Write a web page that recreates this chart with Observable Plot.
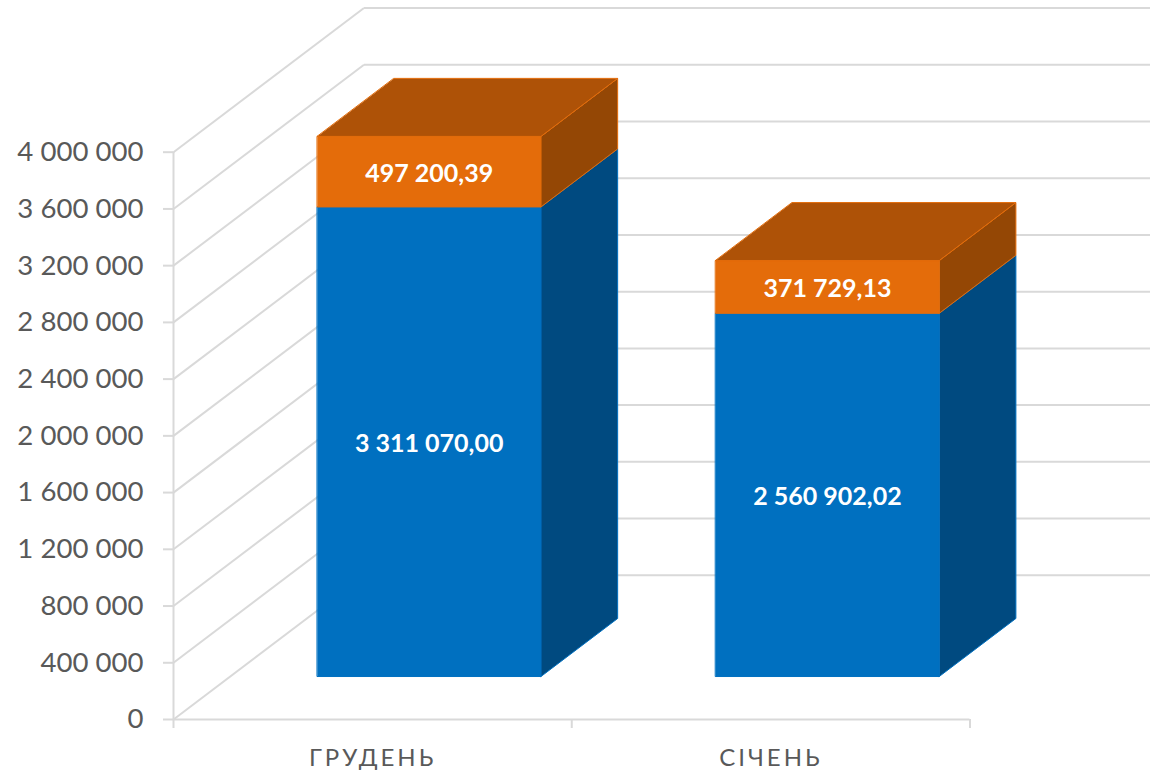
<!DOCTYPE html>
<html>
<head>
<meta charset="utf-8">
<script src="https://cdn.jsdelivr.net/npm/d3@7"></script>
<script src="https://cdn.jsdelivr.net/npm/@observablehq/plot@0.6"></script>
<style>
html,body{margin:0;padding:0;background:#fff;overflow:hidden}
[aria-label="x-axis tick label"]{letter-spacing:3px}
</style>
</head>
<body>
<div id="chart"></div>
<script>
const categories = ["ГРУДЕНЬ", "СІЧЕНЬ"];
const blueValues = [3311070.00, 2560902.02];
const orangeValues = [497200.39, 371729.13];
const yTicks = [0, 400000, 800000, 1200000, 1600000, 2000000, 2400000, 2800000, 3200000, 3600000, 4000000];

// oblique projection of the 3D box: depth 0..1 shifts x (category units) and y (value units)
const depthX = 0.4783, depthY = 1016750;
const barLeft = 0.2187, barWidth = 0.5615, depthFront = 0.298, depthBack = 0.7005;
const P = (xv, yv, d) => ({x: xv + d * depthX, y: yv + d * depthY});

const loc = d3.formatLocale({decimal: ",", thousands: " ", grouping: [3]});
const fmtInt = loc.format(",d"), fmtVal = loc.format(",.2f");

function faces() {
  const out = {blueSide: [], blueFront: [], orangeSide: [], orangeFront: [], orangeTop: []};
  const add = (k, id, pts) => pts.forEach(p => out[k].push({...p, id}));
  categories.forEach((c, i) => {
    const l = i + barLeft, r = l + barWidth, a = blueValues[i], b = a + orangeValues[i];
    const f = depthFront, k = depthBack;
    add("blueSide", c, [P(r, 0, f), P(r, 0, k), P(r, a, k), P(r, a, f)]);
    add("blueFront", c, [P(l, 0, f), P(r, 0, f), P(r, a, f), P(l, a, f)]);
    add("orangeSide", c, [P(r, a, f), P(r, a, k), P(r, b, k), P(r, b, f)]);
    add("orangeFront", c, [P(l, a, f), P(r, a, f), P(r, b, f), P(l, b, f)]);
    add("orangeTop", c, [P(l, b, f), P(r, b, f), P(r, b, k), P(l, b, k)]);
  });
  return out;
}
const F = faces();
const face = (rows, fill, stroke) => Plot.line(rows, {x: "x", y: "y", z: "id", fill, stroke, strokeWidth: 1, curve: "linear-closed", strokeLinejoin: "round"});

const labelRows = categories.flatMap((c, i) => {
  const cx = i + barLeft + barWidth / 2;
  return [
    {...P(cx, blueValues[i] / 2, depthFront), t: fmtVal(blueValues[i])},
    {...P(cx, blueValues[i] + orangeValues[i] / 2, depthFront), t: fmtVal(orangeValues[i])}
  ];
});

const grid = "#D9D9D9", ink = "#595959", fontFamily = "Lato, 'Open Sans', sans-serif";

const chart = Plot.plot({
  width: 1150, height: 771,
  marginLeft: 173, marginRight: 0, marginTop: 151.7, marginBottom: 52,
  style: {fontFamily, background: "#fff"},
  x: {domain: [0, 977 / 398.25], axis: null},
  y: {domain: [0, 4000000], axis: null},
  marks: [
    Plot.link(yTicks, {x1: () => 0, y1: d => d, x2: () => depthX, y2: d => d + depthY, stroke: grid, strokeWidth: 2}),
    Plot.link(yTicks, {x1: () => depthX, y1: d => d + depthY, x2: () => 977 / 398.25, y2: d => d + depthY, stroke: grid, strokeWidth: 2}),
    Plot.ruleX([0], {y1: 0, y2: 4000000, stroke: grid, strokeWidth: 2}),
    Plot.ruleY([0], {x1: 0, x2: 2, stroke: grid, strokeWidth: 2}),
    Plot.axisY({ticks: yTicks, tickFormat: fmtInt, tickSize: 10, tickPadding: 20, stroke: grid, strokeWidth: 2, color: ink, fontSize: 27.6, marginLeft: 173, label: null, textStroke: "none"}),
    Plot.axisX({ticks: [0, 1, 2], tickFormat: () => "", tickSize: 9, stroke: grid, strokeWidth: 2, label: null}),
    Plot.axisX({ticks: [0.5, 1.5], tickSize: 0, tickPadding: 29, tickFormat: d => categories[d - 0.5], color: ink, fontSize: 24, label: null}),
    face(F.blueSide, "#004A80", "#0070C0"),
    face(F.blueFront, "#0070C0", "#0070C0"),
    face(F.orangeSide, "#944705", "#E46C0A"),
    face(F.orangeFront, "#E46C0A", "#E46C0A"),
    face(F.orangeTop, "#AE5207", "#E46C0A"),
    Plot.text(labelRows, {x: "x", y: "y", text: "t", fill: "#fff", fontSize: 25, fontWeight: 700, dy: 2})
  ]
});
document.getElementById("chart").append(chart);
</script>
</body>
</html>
